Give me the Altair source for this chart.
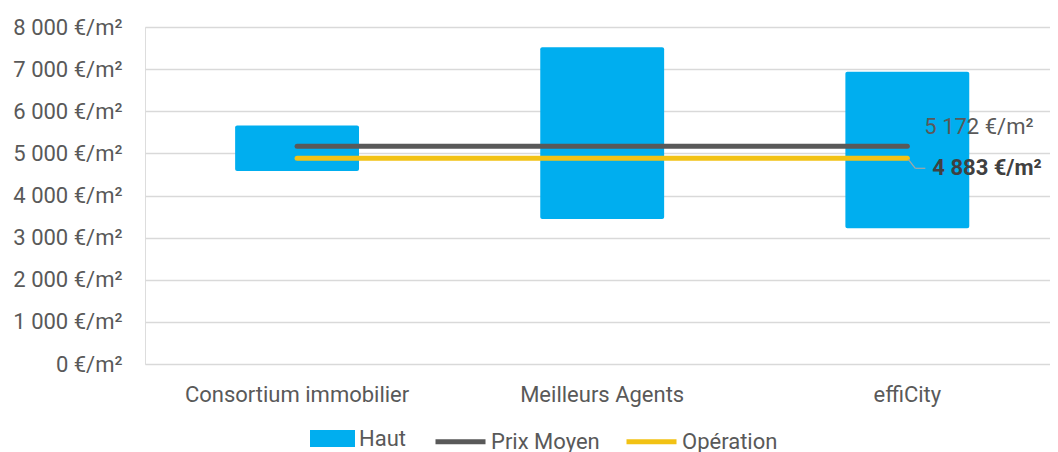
import altair as alt
import pandas as pd

categories = ["Consortium immobilier", "Meilleurs Agents", "effiCity"]
bas = [4580, 3440, 3220]
haut = [5660, 7520, 6940]
prix_moyen = [5172, 5172, 5172]
operation = [4883, 4883, 4883]
bar_series = ["Haut"]
line_series = ["Prix Moyen", "Opération"]
bar_color = ["#00AEEF"]
line_colors = ["#595959", "#F2C214"]

bars = pd.DataFrame({"cat": categories, "bas": bas, "haut": haut, "serie": "Haut"})
lines = pd.DataFrame({
    "cat": categories * 2,
    "val": prix_moyen + operation,
    "serie": ["Prix Moyen"] * 3 + ["Opération"] * 3,
})

FONT = "Roboto"
GREY = "#595959"
FS = 22

xscale = alt.Scale(domain=categories, paddingInner=0.594, paddingOuter=0.28, align=0.5275)
yscale = alt.Scale(domain=[0, 8000])

x = alt.X(
    "cat:N",
    scale=xscale,
    sort=categories,
    axis=alt.Axis(title=None, labelAngle=0, labelPadding=20, labelLimit=400,
                  grid=False, domain=False, ticks=False),
)

bar_layer = alt.Chart(bars).mark_bar(cornerRadius=2).encode(
    x=x,
    y=alt.Y(
        "bas:Q",
        scale=yscale,
        axis=alt.Axis(
            title=None, values=list(range(0, 8001, 1000)),
            labelExpr="replace(format(datum.value, ','), ',', ' ') + ' €/m²'",
            labelPadding=23, gridColor="#D9D9D9", gridWidth=1.5,
            domain=False, ticks=False,
        ),
    ),
    y2="haut:Q",
    fill=alt.Fill(
        "serie:N",
        scale=alt.Scale(domain=bar_series, range=bar_color),
        legend=alt.Legend(
            title=None, orient="none", legendX=165, legendY=389,
            labelFont=FONT, labelFontSize=FS, labelColor=GREY, labelOffset=4,
            symbolType="M-1,-0.38H1V0.38H-1Z", symbolSize=2025,
            symbolStrokeWidth=0, symbolOpacity=1,
        ),
    ),
)

line_layer = alt.Chart(lines).mark_line(strokeWidth=5, strokeCap="round").encode(
    x=alt.X("cat:N", scale=xscale, sort=categories),
    y=alt.Y("val:Q", scale=yscale),
    stroke=alt.Stroke(
        "serie:N",
        scale=alt.Scale(domain=line_series, range=line_colors),
        sort=line_series,
        legend=alt.Legend(
            title=None, orient="none", legendX=288, legendY=387,
            direction="horizontal", columnPadding=16,
            labelFont=FONT, labelFontSize=FS, labelColor=GREY, labelOffset=3,
            symbolType="stroke", symbolSize=2500, symbolStrokeWidth=5,
        ),
    ),
    detail="serie:N",
)

last = pd.DataFrame({"cat": [categories[-1]], "pm": [prix_moyen[-1]], "op": [operation[-1]]})

label_pm = alt.Chart(last).transform_calculate(
    lab="replace(format(datum.pm, ','), ',', ' ') + ' €/m²'"
).mark_text(
    align="left", baseline="middle", dx=17, dy=-19, font=FONT, fontSize=FS, color=GREY
).encode(x=alt.X("cat:N", scale=xscale, sort=categories), y=alt.Y("pm:Q", scale=yscale), text="lab:N")

label_op = alt.Chart(last).transform_calculate(
    lab="replace(format(datum.op, ','), ',', ' ') + ' €/m²'"
).mark_text(
    align="left", baseline="middle", dx=25, dy=10, font=FONT, fontSize=FS,
    fontWeight="bold", color="#404040"
).encode(x=alt.X("cat:N", scale=xscale, sort=categories), y=alt.Y("op:Q", scale=yscale), text="lab:N")

leader = alt.Chart(last).mark_rule(
    color="#A6A6A6", strokeWidth=1.2, xOffset=1, yOffset=1, x2Offset=8, y2Offset=10
).encode(
    x=alt.X("cat:N", scale=xscale, sort=categories),
    x2="cat:N",
    y=alt.Y("op:Q", scale=yscale),
    y2="op:Q",
)
leader2 = alt.Chart(last).mark_rule(
    color="#A6A6A6", strokeWidth=1.2, xOffset=8, yOffset=10, x2Offset=18, y2Offset=10
).encode(
    x=alt.X("cat:N", scale=xscale, sort=categories),
    x2="cat:N",
    y=alt.Y("op:Q", scale=yscale),
    y2="op:Q",
)

chart = alt.layer(bar_layer, line_layer, leader, leader2, label_pm, label_op).properties(
    width=905,
    height=337,
    autosize=alt.AutoSizeParams(type="none"),
    padding={"left": 137, "top": 19, "right": 0, "bottom": 88},
).configure_view(stroke="transparent", strokeOpacity=0, strokeWidth=0).configure(
    background="white"
).configure_axis(
    domain=False, ticks=False, domainOpacity=0, tickOpacity=0,
    labelFont=FONT, labelFontSize=FS, labelColor=GREY,
).configure_axisX(grid=False, gridOpacity=0, domainOpacity=0, tickOpacity=0).configure_axisBand(
    grid=False, gridOpacity=0, tickOpacity=0, domainOpacity=0
).configure_axisY(domain=False, domainOpacity=0, tickOpacity=0).configure_axisLeft(
    domain=False, domainOpacity=0
)

chart.save("out.html", embed_options={"renderer": "svg", "actions": False})
